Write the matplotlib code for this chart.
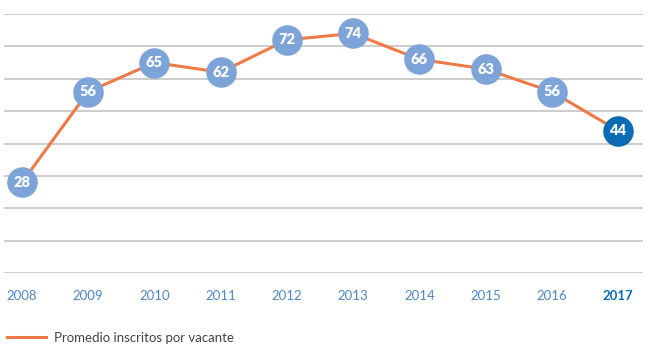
import matplotlib.pyplot as plt

years = [2008, 2009, 2010, 2011, 2012, 2013, 2014, 2015, 2016, 2017]
values = [28, 56, 65, 62, 72, 74, 66, 63, 56, 44]
series_name = "Promedio inscritos por vacante"

orange = "#F07A45"
light_blue = "#7DA4D9"
dark_blue = "#0B6CB3"
tick_blue = "#4F87C4"
grid_gray = "#C4C4C4"

plt.rcParams["font.family"] = ["Lato", "DejaVu Sans"]

fig = plt.figure(figsize=(6.54, 3.59), dpi=100)
ax = fig.add_axes([4 / 654, 1 - 273 / 359, 639 / 654, 259 / 359])

ax.plot(years, values, color=orange, linewidth=2.2, zorder=2, label=series_name)

for i, (yr, v) in enumerate(zip(years, values)):
    last = i == len(years) - 1
    ax.plot(yr, v, "o", markersize=22, color=dark_blue if last else light_blue,
            markeredgewidth=0, zorder=3)
    ax.text(yr, v, str(v), ha="center", va="center", color="white",
            fontsize=10.5, fontweight="heavy", zorder=4)

ax.set_ylim(0, 80)
ax.set_xlim(2008 - 18 / 66.22, 2017 + 25 / 66.22)
ax.set_yticks(range(0, 81, 10))
ax.grid(axis="y", color=grid_gray, linewidth=1.2)
ax.set_axisbelow(True)
for s in ax.spines.values():
    s.set_visible(False)
ax.tick_params(axis="y", left=False, labelleft=False)
ax.tick_params(axis="x", bottom=False, pad=9)
ax.set_xticks(years)
ax.set_xticklabels([str(y) for y in years], fontsize=9.5, color=tick_blue)
lbl = ax.get_xticklabels()[-1]
lbl.set_fontweight("bold")
lbl.set_color(dark_blue)

fig.legend(loc="lower left", bbox_to_anchor=(-0.008, 0.01), frameon=False,
           handlelength=3.0, handletextpad=0.6, fontsize=9.5, labelcolor="#444444")

fig.savefig("out.png", dpi=100)
